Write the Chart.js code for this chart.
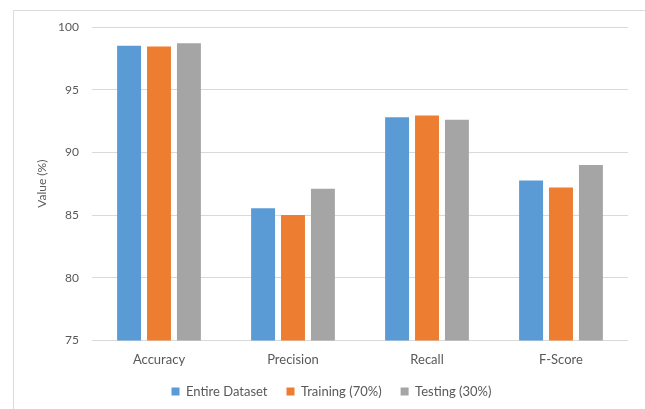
<html>

<head>
    <title>Metrics</title>
    <script src="https://cdn.jsdelivr.net/npm/chart.js"></script>
    <style>
        body { margin: 0; background: #fff; overflow: hidden; }
        #frame { position: absolute; left: 13px; top: 10px; width: 700px; height: 500px; border: 1px solid #dcdcdc; }
        #wrap { position: absolute; left: 0; top: 0; width: 645px; height: 409px; }
    </style>
</head>

<body>
    <div id="frame"></div>
    <div id="wrap">
        <canvas id="metrics"></canvas>
    </div>
</body>
<script>
    // values
    const categories = ["Accuracy", "Precision", "Recall", "F-Score"]
    const entireDataset = [98.5, 85.55, 92.8, 87.75]
    const training70 = [98.45, 85.0, 92.95, 87.2]
    const testing30 = [98.7, 87.1, 92.6, 89.0]
    const yTicks = [75, 80, 85, 90, 95, 100]

    const textColor = "#595959"
    const font = { family: "Lato", size: 12 }
    const bigFont = { family: "Lato", size: 13 }

    function bar(label, data, color) {
        return {
            label: label,
            data: data,
            backgroundColor: color,
            borderWidth: 0,
            categoryPercentage: 0.67,
            barPercentage: 0.8
        }
    }

    new Chart(document.getElementById("metrics"), {
        type: "bar",
        data: {
            labels: categories,
            datasets: [
                bar("Entire Dataset", entireDataset, "#5B9BD5"),
                bar("Training (70%)", training70, "#ED7D31"),
                bar("Testing (30%)", testing30, "#A5A5A5")
            ]
        },
        options: {
            responsive: true,
            maintainAspectRatio: false,
            animation: false,
            layout: { padding: { left: 35, right: 17, top: 27, bottom: 1 } },
            plugins: {
                tooltip: { enabled: false },
                legend: {
                    position: "bottom",
                    labels: { boxWidth: 8, boxHeight: 8, padding: 19, color: textColor, font: bigFont }
                }
            },
            scales: {
                x: {
                    grid: { display: false },
                    border: { display: false },
                    afterFit: (scale) => { scale.height -= 6 },
                    ticks: { color: textColor, font: bigFont, padding: 4 }
                },
                y: {
                    min: yTicks[0],
                    max: yTicks[yTicks.length - 1],
                    afterBuildTicks: (scale) => { scale.ticks = yTicks.map(v => ({ value: v })) },
                    afterFit: (scale) => { scale.width = 57 },
                    grid: { color: "#d9d9d9", drawTicks: false },
                    border: { display: false },
                    ticks: { color: textColor, font: font, padding: 13 },
                    title: { display: true, text: "Value (%)", color: textColor, font: font, padding: 0 }
                }
            }
        }
    })
</script>

</html>
